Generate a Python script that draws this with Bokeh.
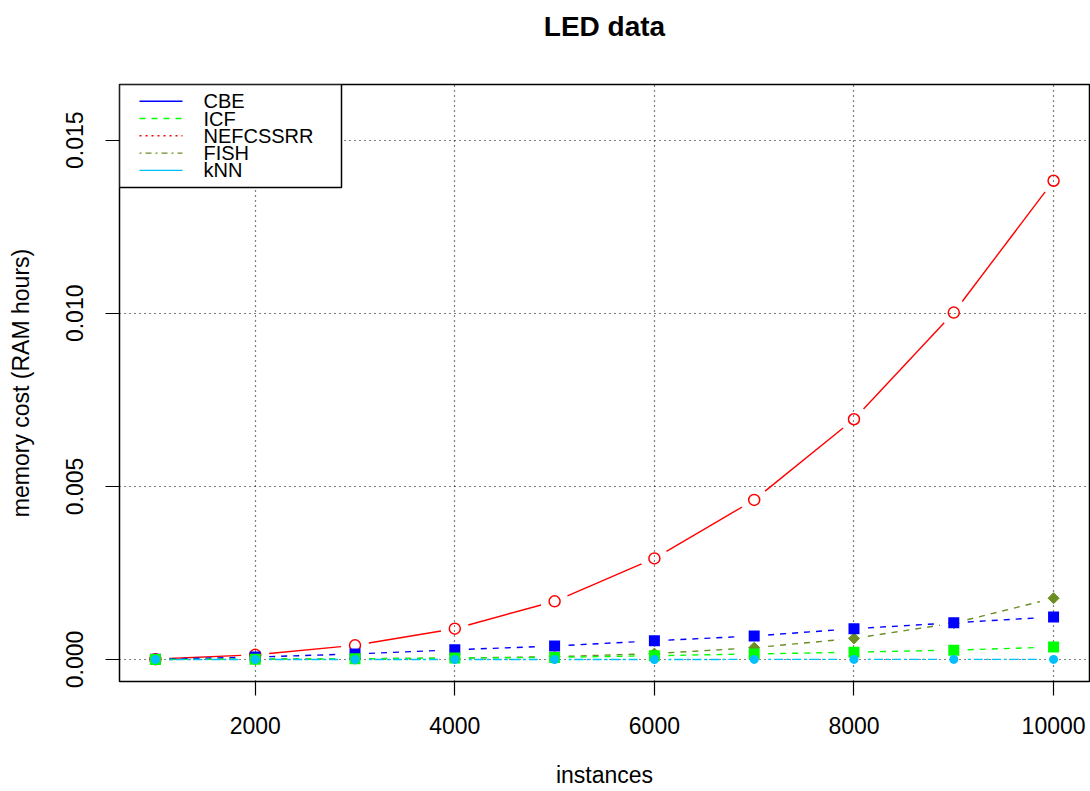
import math

from bokeh.plotting import figure
from bokeh.models import Range1d, FixedTicker, Title
from bokeh.core.properties import value
from bokeh.embed import file_html
from bokeh.resources import INLINE

# ---- data -------------------------------------------------------------
instances = [1000, 2000, 3000, 4000, 5000, 6000, 7000, 8000, 9000, 10000]

cbe = [0.00001, 0.00007, 0.00016, 0.00028, 0.00039, 0.00054, 0.00068, 0.00089, 0.00106, 0.00123]
icf = [0.0, 0.00001, 0.00002, 0.00004, 0.00006, 0.00011, 0.00016, 0.00021, 0.00027, 0.00036]
nefcssrr = [0.00001, 0.000135, 0.00041, 0.00089, 0.00168, 0.00292, 0.00461, 0.00694, 0.01002, 0.01383]
fish = [0.0, 0.00001, 0.00002, 0.00004, 0.00008, 0.00017, 0.00034, 0.00061, 0.00105, 0.00177]
knn = [0.0, 0.0, 0.0, 0.000001, 0.000001, 0.000001, 0.000002, 0.000002, 0.000002, 0.000003]

x_ticks = [2000, 4000, 6000, 8000, 10000]
x_tick_labels = ["2000", "4000", "6000", "8000", "10000"]
y_ticks = [0.0, 0.005, 0.010, 0.015]
y_tick_labels = ["0.000", "0.005", "0.010", "0.015"]

legend_names = ["CBE", "ICF", "NEFCSSRR", "FISH", "kNN"]

# ---- geometry -----------------------------------------------------------
W, H = 1090, 791
LEFT, RIGHT, TOP, BOTTOM = 119, 1, 84, 110
FRAME_W = W - LEFT - RIGHT
FRAME_H = H - TOP - BOTTOM
X0, X1 = 640, 10360
Y0, Y1 = -0.000636, 0.01661
SX = FRAME_W / (X1 - X0)     # pixels per x unit
SY = FRAME_H / (Y1 - Y0)     # pixels per y unit

FONT = "Liberation Sans"

p = figure(
    width=W, height=H,
    x_range=Range1d(X0, X1), y_range=Range1d(Y0, Y1),
    output_backend="svg", toolbar_location=None,
    min_border_left=LEFT, min_border_right=RIGHT,
    min_border_top=TOP, min_border_bottom=BOTTOM,
)
p.background_fill_color = "white"
p.border_fill_color = "white"
p.outline_line_color = "black"
p.outline_line_width = 1.5

# an empty spacer panel next to the frame lifts the title towards the top
p.add_layout(Title(text=" ", text_font_size="1px", standoff=40), "above")
p.add_layout(Title(text="LED data", align="center", vertical_align="bottom",
                   standoff=0, text_font=FONT, text_font_size="28px",
                   text_font_style="bold", text_color="black"), "above")

# axes
for ax in (p.xaxis[0], p.yaxis[0]):
    ax.axis_line_color = None
    ax.major_tick_line_color = "black"
    ax.major_tick_line_width = 1.2
    ax.major_tick_out = 14
    ax.major_tick_in = 0
    ax.minor_tick_line_color = None
    ax.major_label_text_font = FONT
    ax.major_label_text_font_size = "23px"
    ax.major_label_text_color = "black"
    ax.major_label_text_line_height = 1.0
    ax.axis_label_text_font = FONT
    ax.axis_label_text_font_size = "23px"
    ax.axis_label_text_font_style = "normal"
    ax.axis_label_text_color = "black"
    ax.axis_label_text_line_height = 1.0

p.xaxis.ticker = FixedTicker(ticks=x_ticks)
p.xaxis.major_label_overrides = dict(zip(x_ticks, x_tick_labels))
p.xaxis.axis_label = "instances"
p.xaxis.major_label_standoff = 21
p.xaxis.axis_label_standoff = 25

p.yaxis.ticker = FixedTicker(ticks=y_ticks)
p.yaxis.major_label_overrides = dict(zip(y_ticks, y_tick_labels))
p.yaxis.major_label_orientation = "vertical"
p.yaxis.axis_label = "memory cost (RAM hours)"
p.yaxis.major_label_standoff = 22
p.yaxis.axis_label_standoff = 30

# dotted grid
p.xgrid.ticker = FixedTicker(ticks=x_ticks)
p.ygrid.ticker = FixedTicker(ticks=y_ticks)
for g in (p.xgrid[0], p.ygrid[0]):
    g.grid_line_color = "black"
    g.grid_line_width = 1.2
    g.grid_line_dash = "1 4"


def gapped_segments(xs, ys, gap_px=14):
    """Line pieces between consecutive points, cut short near each point."""
    out = dict(x0=[], y0=[], x1=[], y1=[])
    for a in range(len(xs) - 1):
        xa, ya, xb, yb = xs[a], ys[a], xs[a + 1], ys[a + 1]
        L = math.hypot((xb - xa) * SX, (yb - ya) * SY)
        if L <= 2 * gap_px:
            continue
        f = gap_px / L
        out["x0"].append(xa + (xb - xa) * f)
        out["y0"].append(ya + (yb - ya) * f)
        out["x1"].append(xb - (xb - xa) * f)
        out["y1"].append(yb - (yb - ya) * f)
    return out


LW = 1.4

# NEFCSSRR: solid red, open circles
s = gapped_segments(instances, nefcssrr)
p.segment(s["x0"], s["y0"], s["x1"], s["y1"], line_color="#FF0000", line_width=LW)
p.scatter(instances, nefcssrr, marker="circle", size=11, fill_color=None,
          line_color="#FF0000", line_width=1.5)

# FISH: dashed olive, diamonds
s = gapped_segments(instances, fish)
p.segment(s["x0"], s["y0"], s["x1"], s["y1"], line_color="#6B8E23", line_width=LW,
          line_dash="6 6")
p.scatter(instances, fish, marker="square", angle=math.pi / 4, size=7.8,
          fill_color="#6B8E23", line_color="#6B8E23")

# CBE: dashed blue, filled squares
s = gapped_segments(instances, cbe)
p.segment(s["x0"], s["y0"], s["x1"], s["y1"], line_color="#0000FF", line_width=LW,
          line_dash="6 6")
p.scatter(instances, cbe, marker="square", size=11, fill_color="#0000FF",
          line_color=None)

# ICF: dashed green, filled squares
s = gapped_segments(instances, icf)
p.segment(s["x0"], s["y0"], s["x1"], s["y1"], line_color="#00FF00", line_width=LW,
          line_dash="6 6")
p.scatter(instances, icf, marker="square", size=11, fill_color="#00FF00",
          line_color=None)

# kNN: two-dash cyan, filled circles
s = gapped_segments(instances, knn)
p.segment(s["x0"], s["y0"], s["x1"], s["y1"], line_color="#00BFFF", line_width=LW,
          line_dash="3 3 9 3")
p.scatter(instances, knn, marker="circle", size=9, fill_color="#00BFFF",
          line_color=None)


# ---- legend box in the top-left corner of the frame ----------------------
def fx(px):
    """Pixel offset from the frame's left edge -> x value."""
    return X0 + px / SX


def fy(py):
    """Pixel offset from the frame's top edge -> y value."""
    return Y1 - py / SY


legend_colors = ["#0000FF", "#00FF00", "#FF0000", "#6B8E23", "#00BFFF"]
legend_dashes = ["solid", "6 6", "2 4", "2 4 6 4", "solid"]
BOX_W, BOX_H = 222, 103
ROW0, ROW_STEP = 16.7, 17.3
KEY_X0, KEY_X1, TEXT_X = 20, 63, 84

p.quad(left=[fx(0)], right=[fx(BOX_W)], top=[fy(0)], bottom=[fy(BOX_H)],
       fill_color="white", line_color="black", line_width=1.5)
for k, (name, col, dash) in enumerate(zip(legend_names, legend_colors, legend_dashes)):
    yk = fy(ROW0 + k * ROW_STEP)
    p.segment([fx(KEY_X0)], [yk], [fx(KEY_X1)], [yk], line_color=col,
              line_dash=dash, line_width=LW)
    p.text([fx(TEXT_X)], [yk], text=[name], text_font=value(FONT),
           text_font_size="20px", text_color="black", text_baseline="middle",
           text_align="left")

open("out.html", "w").write(file_html(p, INLINE))
